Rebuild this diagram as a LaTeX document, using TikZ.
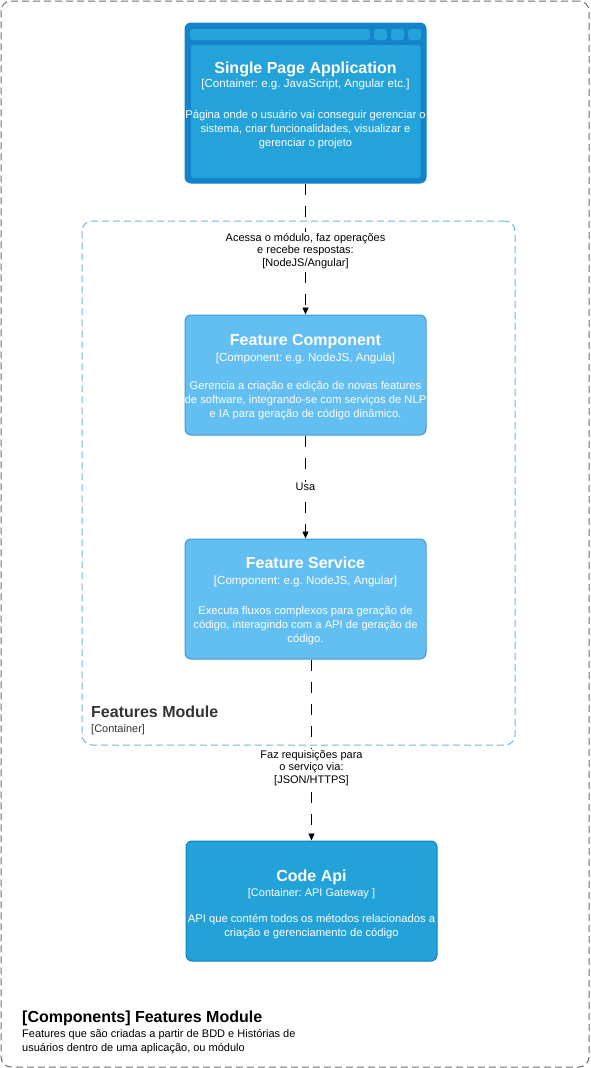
\documentclass[tikz,border=0pt]{standalone}
\usepackage{fontspec}
\setmainfont{Liberation Sans}
\usetikzlibrary{arrows.meta}
\frenchspacing
\definecolor{spaframe}{RGB}{20,132,202}
\definecolor{spabody}{RGB}{36,162,218}
\definecolor{compfill}{RGB}{99,190,242}
\definecolor{compline}{RGB}{66,152,212}
\definecolor{apifill}{RGB}{35,162,217}
\definecolor{apiline}{RGB}{16,128,180}
\definecolor{bndline}{RGB}{110,182,224}
\definecolor{outerline}{RGB}{110,110,110}
\definecolor{darktext}{RGB}{51,51,51}
\tikzset{
  boxbase/.style={rounded corners=6pt, line width=1pt, inner sep=0pt},
  compbox/.style={boxbase, fill=compfill, draw=compline, minimum width=241pt, minimum height=120pt},
  apibox/.style={boxbase, fill=apifill, draw=apiline, minimum width=251pt, minimum height=120pt},
  spabox/.style={boxbase, fill=spaframe, draw=spaframe, minimum width=241pt, minimum height=160pt},
  spapart/.style={fill=spabody, rounded corners=2.5pt},
  ttl/.style={text=white, anchor=base, inner sep=0pt, font=\fontsize{16}{19}\selectfont\bfseries},
  tech/.style={text=white, anchor=base, inner sep=0pt, font=\fontsize{11.6}{13}\selectfont},
  desc/.style={text=white, anchor=base, inner sep=0pt, font=\fontsize{11.2}{13}\selectfont},
  rel/.style={draw=black, line width=0.9pt, dash pattern=on 11pt off 11pt, -{Triangle[length=7pt,width=6pt]}},
  lbl/.style={fill=white, inner sep=1.5pt, align=center, text=black, font=\fontsize{11}{12.7}\selectfont},
  fmbound/.style={draw=bndline, line width=1pt, dash pattern=on 7pt off 4pt, rounded corners=10pt, minimum width=433pt, minimum height=524pt, inner sep=0pt},
  outbound/.style={draw=outerline, line width=1pt, dash pattern=on 7pt off 4pt, rounded corners=10pt, minimum width=588pt, minimum height=1066pt, inner sep=0pt},
}
\begin{document}
\begin{tikzpicture}[x=1pt,y=-1pt]
\useasboundingbox (0,0) rectangle (590,1068);
% outer boundary
\node[outbound] (outer) at (295,534) {};
% features module boundary
\node[fmbound] (fm) at (298.5,483) {};
\node[anchor=base west, inner sep=0pt, text=darktext, font=\fontsize{16}{19}\selectfont\bfseries] (fmtitle) at (91,717.5) {Features Module};
\node[anchor=base west, inner sep=0pt, text=darktext, font=\fontsize{11}{13}\selectfont] (fmtype) at (91,732) {[Container]};

% SPA
\node[spabox] (spa) at (305.5,103) {};
\fill[spapart] (191,45) rectangle (420.5,178);
\fill[spapart] (190,29) rectangle (370,40);
\fill[spapart] (374,29) rectangle (387,40);
\fill[spapart] (391,29) rectangle (404,40);
\fill[spapart] (408,29) rectangle (421,40);
\node[ttl] (spat) at (305.5,73) {Single Page Application};
\node[tech] (spak) at (305.5,87.5) {[Container: e.g. JavaScript, Angular etc.]};
\node[desc] (spad1) at (305.5,118) {Página onde o usuário vai conseguir gerenciar o};
\node[desc] (spad2) at (305.5,132) {sistema, criar funcionalidades, visualizar e};
\node[desc] (spad3) at (305.5,146) {gerenciar o projeto};

% Feature Component
\node[compbox] (fc) at (305.5,375) {};
\node[ttl] (fct) at (305.5,345) {Feature Component};
\node[tech] (fck) at (305.5,361) {[Component: e.g. NodeJS, Angula]};
\node[desc] (fcd1) at (305.5,389) {Gerencia a criação e edição de novas features};
\node[desc] (fcd2) at (305.5,403) {de software, integrando-se com serviços de NLP};
\node[desc] (fcd3) at (305.5,417) {e IA para geração de código dinâmico.};

% Feature Service
\node[compbox] (fs) at (305.5,599) {};
\node[ttl] (fst) at (305.5,568) {Feature Service};
\node[tech] (fsk) at (305.5,584) {[Component: e.g. NodeJS, Angular]};
\node[desc] (fsd1) at (305.5,614) {Executa fluxos complexos para geração de};
\node[desc] (fsd2) at (305.5,628) {código, interagindo com a API de geração de};
\node[desc] (fsd3) at (305.5,642) {código.};

% Code Api
\node[apibox] (ca) at (311.5,901) {};
\node[ttl] (cat) at (311.5,881) {Code Api};
\node[tech, font=\fontsize{11}{13}\selectfont] (cak) at (311.5,896) {[Container: API Gateway ]};
\node[desc] (cad1) at (311.5,922) {API que contém todos os métodos relacionados a};
\node[desc] (cad2) at (311.5,936) {criação e gerenciamento de código};

% relationships
\draw[rel] (spa.south) -- node[lbl, pos=0.515] (l1) {Acessa o módulo, faz operações\\e recebe respostas:\\[0pt][NodeJS/Angular]} (fc.north);
\draw[rel] (fc.south) -- node[lbl] (l2) {Usa} (fs.north);
\draw[rel] (fs.south -| ca.north) -- node[lbl, pos=0.6] (l3) {Faz requisições para\\o serviço via:\\[0pt][JSON/HTTPS]} (ca.north);

% diagram title
\node[anchor=base west, inner sep=0pt, text=black, font=\fontsize{16}{19}\selectfont\bfseries] (title) at (22,1022.5) {[Components] Features Module};
\node[anchor=base west, inner sep=0pt, text=black, font=\fontsize{11}{14}\selectfont] (sub1) at (22,1037) {Features que são criadas a partir de BDD e Histórias de};
\node[anchor=base west, inner sep=0pt, text=black, font=\fontsize{11}{14}\selectfont] (sub2) at (22,1051) {usuários dentro de uma aplicação, ou módulo};
\end{tikzpicture}
\end{document}
